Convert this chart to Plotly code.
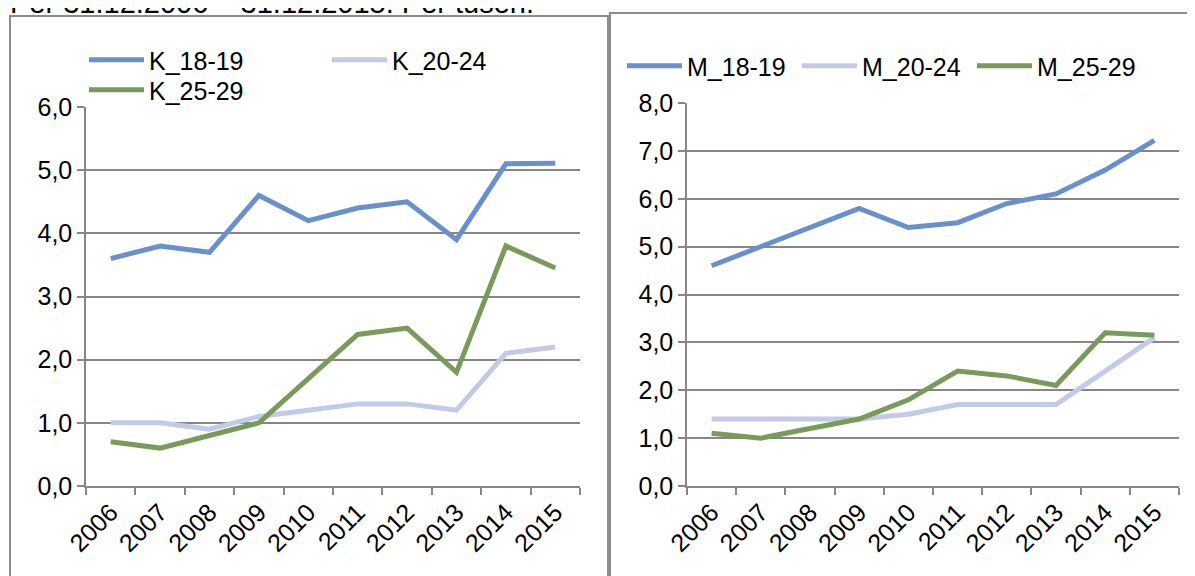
import plotly.graph_objects as go

years = ["2006", "2007", "2008", "2009", "2010", "2011", "2012", "2013", "2014", "2015"]

k_18_19 = [3.6, 3.8, 3.7, 4.6, 4.2, 4.4, 4.5, 3.9, 5.1, 5.11]
k_20_24 = [1.0, 1.0, 0.9, 1.1, 1.2, 1.3, 1.3, 1.2, 2.1, 2.2]
k_25_29 = [0.7, 0.6, 0.8, 1.0, 1.7, 2.4, 2.5, 1.8, 3.8, 3.45]

m_18_19 = [4.6, 5.0, 5.4, 5.8, 5.4, 5.5, 5.9, 6.1, 6.6, 7.22]
m_20_24 = [1.4, 1.4, 1.4, 1.4, 1.5, 1.7, 1.7, 1.7, 2.4, 3.1]
m_25_29 = [1.1, 1.0, 1.2, 1.4, 1.8, 2.4, 2.3, 2.1, 3.2, 3.15]

title_text = "Per 31.12.2006 – 31.12.2015. Per tusen."

BLUE = "#6A8FCD"
LIGHT = "#C1CBE8"
GREEN = "#789A5B"
GRID = "#868686"
FONT = "Liberation Sans, Arial, sans-serif"
FS = 25

W, H = 1195, 576
OFF = 8  # page body margin in the browser

def px(x):
    return (x - OFF) / W

def py(y):
    return 1 - (y - OFF) / H

fig = go.Figure()

lw = 5
fig.add_trace(go.Scatter(x=years, y=k_18_19, name="K_18-19", mode="lines",
                         line=dict(color=BLUE, width=lw), xaxis="x", yaxis="y", legend="legend"))
fig.add_trace(go.Scatter(x=years, y=k_20_24, name="K_20-24", mode="lines",
                         line=dict(color=LIGHT, width=lw), xaxis="x", yaxis="y", legend="legend"))
fig.add_trace(go.Scatter(x=years, y=k_25_29, name="K_25-29", mode="lines",
                         line=dict(color=GREEN, width=lw), xaxis="x", yaxis="y", legend="legend2"))

fig.add_trace(go.Scatter(x=years, y=m_18_19, name="M_18-19", mode="lines",
                         line=dict(color=BLUE, width=lw), xaxis="x2", yaxis="y2", legend="legend3"))
fig.add_trace(go.Scatter(x=years, y=m_20_24, name="M_20-24", mode="lines",
                         line=dict(color=LIGHT, width=lw), xaxis="x2", yaxis="y2", legend="legend3"))
fig.add_trace(go.Scatter(x=years, y=m_25_29, name="M_25-29", mode="lines",
                         line=dict(color=GREEN, width=lw), xaxis="x2", yaxis="y2", legend="legend3"))

tickfont = dict(family=FONT, size=FS, color="#000000")

xcommon = dict(type="category", range=[-0.5, 9.5], tickson="boundaries",
               ticks="outside", ticklen=7, tickcolor=GRID, tickwidth=1.5,
               showline=True, linecolor=GRID, linewidth=1.5, showgrid=False,
               tickangle=-45, tickfont=tickfont, zeroline=False, fixedrange=True,
               automargin=False)
ycommon = dict(ticks="outside", ticklen=7, tickcolor=GRID, tickwidth=1.5,
               showline=True, linecolor=GRID, linewidth=1.5, showgrid=True,
               gridcolor=GRID, gridwidth=1.5, dtick=1, tickformat=".1f",
               tickfont=tickfont, zeroline=False, fixedrange=True, automargin=False)

legend_common = dict(orientation="h", font=dict(family=FONT, size=FS, color="#000000"),
                     bgcolor="rgba(0,0,0,0)", itemwidth=55, xanchor="left", yanchor="middle",
                     tracegroupgap=0, itemclick=False, itemdoubleclick=False)

fig.update_layout(
    width=W, height=H,
    margin=dict(l=0, r=0, t=0, b=0, autoexpand=False),
    paper_bgcolor="#FFFFFF",
    plot_bgcolor="#FFFFFF",
    separators=", ",
    showlegend=True,
    xaxis=dict(domain=[px(86), px(580)], anchor="y", **xcommon),
    yaxis=dict(domain=[py(486), py(107)], anchor="x", range=[0, 6], **ycommon),
    xaxis2=dict(domain=[px(687), px(1179)], anchor="y2", **xcommon),
    yaxis2=dict(domain=[py(486), py(103)], anchor="x2", range=[0, 8], **ycommon),
    legend=dict(x=px(84), y=py(60), entrywidth=173, entrywidthmode="pixels", **legend_common),
    legend2=dict(x=px(84), y=py(90), **legend_common),
    legend3=dict(x=px(622), y=py(66), entrywidth=105, entrywidthmode="pixels", **legend_common),
    shapes=[
        dict(type="rect", xref="paper", yref="paper",
             x0=px(10), x1=px(608), y0=py(600), y1=py(16),
             line=dict(color="#8C8C8C", width=2), fillcolor="rgba(0,0,0,0)", layer="below"),
        dict(type="rect", xref="paper", yref="paper",
             x0=px(610), x1=px(1220), y0=py(600), y1=py(13),
             line=dict(color="#8C8C8C", width=2), fillcolor="rgba(0,0,0,0)", layer="below"),
    ],
    annotations=[
        dict(text=title_text, xref="paper", yref="paper", x=px(8), y=py(21),
             xanchor="left", yanchor="bottom", showarrow=False,
             font=dict(family=FONT, size=29, color="#000000")),
    ],
)

fig.write_html("out.html")
